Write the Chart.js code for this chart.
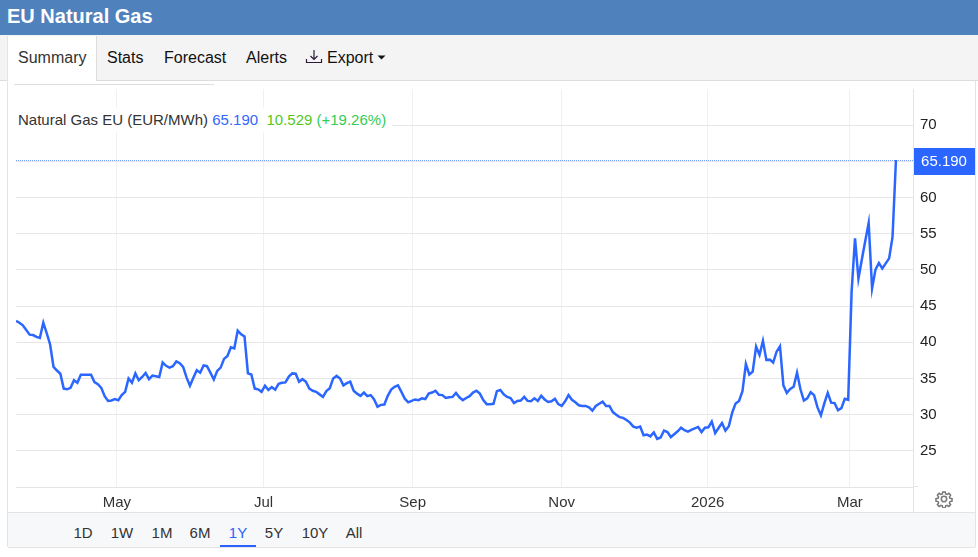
<!DOCTYPE html>
<html>
<head>
<meta charset="utf-8">
<title>EU Natural Gas</title>
<script src="https://cdn.jsdelivr.net/npm/chart.js@4"></script>
<style>
    body { margin: 0; background: #fff; font-family: "Liberation Sans", Arial, sans-serif; }
    #page { position: relative; width: 978px; height: 557px; overflow: hidden; }
    #page > div, #page > span, #page > svg { position: absolute; }
    #header { left: 0; top: 0; width: 978px; height: 35px; background: #4f81bd; color: #fff; font-weight: bold; font-size: 20px; line-height: 32px; text-indent: 7px; }
    #tabbar { left: 0; top: 35px; width: 978px; height: 45px; background: #f4f4f4; border-bottom: 1px solid #ddd; }
    #active-tab { left: 8px; top: 36px; width: 88px; height: 45px; background: #fff; border-right: 1px solid #ddd; }
    .tab { top: 49px; font-size: 16px; line-height: 18px; color: #111; white-space: nowrap; }
    #panel-left { left: 7px; top: 36px; width: 1px; height: 511px; background: #e4e4e4; }
    #panel-right { left: 975px; top: 81px; width: 1px; height: 466px; background: #e4e4e4; }
    #tab-line { left: 14px; top: 84px; width: 200px; height: 1px; background: #ddd; }
    #chart-box { left: 8px; top: 82px; width: 968px; height: 430px; }
    #legend { left: 14px; top: 108px; width: 374px; height: 24px; padding-left: 4px; background: #fff; font-size: 15px; line-height: 24px; color: #333; white-space: nowrap; }
    #range-bar { left: 8px; top: 512px; width: 967px; height: 34px; background: #f7f8fa; border-top: 1px solid #e4e4e4; border-bottom: 1px solid #e4e4e4; }
    .range { top: 525px; width: 40px; margin-left: -20px; text-align: center; font-size: 15px; line-height: 16px; color: #333; }
    #range-mark { left: 220px; top: 545px; width: 36px; height: 2px; background: #2962ff; }
    #gear-rule { left: 913px; top: 486px; width: 1px; height: 26px; background: #e4e4e4; }
    #base-end { left: 913px; top: 486px; width: 5px; height: 1px; background: #e4e4e4; }
</style>
</head>
<body>
<div id="page">
    <div id="header">EU Natural Gas</div>
    <div id="tabbar"></div>
    <div id="active-tab"></div>
    <div id="panel-left"></div>
    <div id="panel-right"></div>
    <span class="tab" style="left:18px;color:#333">Summary</span>
    <span class="tab" style="left:107px">Stats</span>
    <span class="tab" style="left:164px">Forecast</span>
    <span class="tab" style="left:246px">Alerts</span>
    <svg style="left:305px;top:49px" width="18" height="16" viewBox="0 0 18 16" fill="none" stroke="#2b1a3a" stroke-width="1.2">
        <path d="M9 1V10M5.5 7L9 10.5L12.5 7M1.5 10V13.5H16.5V10"/>
    </svg>
    <span class="tab" style="left:327px">Export</span>
    <svg style="left:377px;top:55px" width="9" height="5" viewBox="0 0 9 5"><path d="M0.5 0.5H8.5L4.5 4.5Z" fill="#111"/></svg>
    <div id="chart-box"><canvas id="gas-chart"></canvas></div>
    <div id="tab-line"></div>
    <div id="legend">Natural Gas EU (EUR/MWh) <span style="color:#3366ff">65.190</span>&nbsp; <span style="color:#55c81e">10.529</span> <span style="color:#33cc55">(+19.26%)</span></div>
    <div id="gear-rule"></div>
    <div id="base-end"></div>
    <svg style="left:935px;top:490px" width="18" height="18" viewBox="0 0 24 24" fill="none" stroke="#777" stroke-width="2">
        <path d="M10.3 2.5h3.4l.5 2.7 1.9.8 2.3-1.6 2.4 2.4-1.6 2.3.8 1.9 2.7.5v3.4l-2.7.5-.8 1.9 1.6 2.3-2.4 2.4-2.3-1.6-1.9.8-.5 2.7h-3.4l-.5-2.7-1.9-.8-2.3 1.6-2.4-2.4 1.6-2.3-.8-1.9-2.7-.5v-3.4l2.7-.5.8-1.9-1.6-2.3 2.4-2.4 2.3 1.6 1.9-.8z"/>
        <circle cx="12" cy="12" r="3.6"/>
    </svg>
    <div id="range-bar"></div>
    <span class="range" style="left:83px">1D</span>
    <span class="range" style="left:122px">1W</span>
    <span class="range" style="left:162px">1M</span>
    <span class="range" style="left:200px">6M</span>
    <span class="range" style="left:238px;color:#2962ff">1Y</span>
    <span class="range" style="left:274px">5Y</span>
    <span class="range" style="left:315px">10Y</span>
    <span class="range" style="left:354px">All</span>
    <div id="range-mark"></div>
</div>
<script>
// Daily closes in EUR/MWh (one per trading day)
const prices = [
    42.95, 42.7, 42.35, 41.7, 41.05, 41.0, 40.75, 40.6, 42.7, 41.25,
    39.7, 36.6, 36.1, 35.65, 33.6, 33.5, 33.7, 34.75, 34.4, 35.5,
    35.5, 35.5, 35.5, 34.5, 34.2, 33.7, 32.55, 31.9, 31.95, 32.15,
    32.0, 32.7, 33.15, 35.0, 34.4, 35.7, 34.75, 35.2, 35.75, 34.9,
    35.4, 35.3, 35.2, 37.2, 36.75, 36.5, 36.7, 37.35, 37.1, 36.6,
    35.15, 34.0, 35.1, 36.15, 35.8, 36.8, 36.7, 35.8, 34.85, 36.05,
    36.5, 37.7, 38.1, 39.3, 39.15, 41.6, 41.1, 40.8, 35.7, 35.55,
    33.6, 33.5, 33.15, 34.0, 33.4, 33.8, 33.45, 34.25, 34.4, 34.45,
    35.25, 35.7, 35.65, 34.55, 34.9, 34.55, 33.6, 33.3, 33.15, 32.8,
    32.45, 33.25, 33.65, 35.0, 35.35, 35.0, 34.05, 34.35, 34.55, 33.3,
    32.9, 32.6, 33.05, 32.55, 32.7, 32.1, 31.1, 31.35, 31.4, 32.6,
    33.45, 33.85, 34.05, 33.15, 32.2, 31.7, 31.9, 32.1, 32.0, 32.25,
    32.15, 32.9, 33.05, 33.3, 32.75, 32.7, 32.3, 32.4, 32.45, 33.0,
    32.4, 32.0, 32.3, 32.55, 33.05, 33.3, 32.9, 32.0, 31.45, 31.45,
    31.5, 33.25, 33.4, 32.8, 32.45, 32.3, 31.6, 31.9, 31.95, 32.45,
    31.9, 31.85, 32.25, 31.9, 32.6, 32.1, 31.75, 31.85, 32.2, 31.45,
    31.2, 31.85, 32.7, 32.05, 31.7, 31.3, 31.2, 31.2, 31.0, 30.55,
    31.2, 31.5, 31.8, 31.2, 31.2, 30.35, 30.0, 29.65, 29.55, 29.25,
    28.9, 28.35, 28.2, 28.35, 27.15, 27.25, 27.0, 27.55, 26.65, 26.85,
    27.8, 27.6, 26.9, 27.3, 27.7, 28.2, 27.85, 27.65, 27.9, 28.1,
    28.3, 27.6, 28.2, 28.25, 29.05, 27.45, 28.15, 28.85, 27.8, 28.4,
    30.3, 31.55, 31.9, 33.25, 37.0, 35.55, 35.95, 39.4, 38.25, 40.2,
    37.55, 37.6, 37.2, 38.7, 39.45, 34.05, 33.0, 33.55, 33.85, 35.8,
    33.5, 31.95, 32.25, 33.1, 32.7, 31.0, 29.9, 31.55, 33.0, 31.65,
    31.6, 30.6, 30.9, 32.2, 32.05, 47.0, 54.35, 48.8, 51.45, 54.0,
    56.5, 47.45, 50.05, 50.95, 50.2, 50.9, 51.6, 54.55, 65.19
];

// Month labels and where they fall along the trading-day axis
const monthLabels = ['May', 'Jul', 'Sep', 'Nov', '2026', 'Mar'];
const monthPositions = [29.6, 72.6, 116.3, 160, 202.8, 244.5];

const priceTicks = [25, 30, 35, 40, 45, 50, 55, 60, 65, 70];
const lastDayOnAxis = 263;
const lineBlue = '#2a66ff';

// Dotted line at the last price and the blue price tag on the right
const lastPriceTag = {
    id: 'lastPriceTag',
    afterDraw: function(chart) {
        const ctx = chart.ctx;
        const area = chart.chartArea;
        const last = prices[prices.length - 1];
        const y = chart.scales.y.getPixelForValue(last);

        ctx.save();
        ctx.strokeStyle = 'rgba(42, 102, 255, 0.65)';
        ctx.lineWidth = 1;
        ctx.setLineDash([1, 1]);
        ctx.beginPath();
        ctx.moveTo(area.left, Math.round(y) + 0.5);
        ctx.lineTo(area.right, Math.round(y) + 0.5);
        ctx.stroke();
        ctx.setLineDash([]);

        ctx.fillStyle = lineBlue;
        ctx.fillRect(area.right + 1, y - 12, 61, 27);
        ctx.fillStyle = '#fff';
        ctx.font = '15px "Liberation Sans", Arial, sans-serif';
        ctx.textAlign = 'center';
        ctx.textBaseline = 'middle';
        ctx.fillText(last.toFixed(3), area.right + 31, y + 2);
        ctx.restore();
    }
};

const chartBox = document.getElementById('chart-box');
chartBox.style.position = 'absolute';

new Chart(document.getElementById('gas-chart'), {
    type: 'line',
    data: {
        datasets: [{
            data: prices.map(function(price, day) { return { x: day, y: price }; }),
            borderColor: lineBlue,
            borderWidth: 2.5,
            pointRadius: 0,
            tension: 0
        }]
    },
    options: {
        responsive: true,
        maintainAspectRatio: false,
        animation: false,
        layout: { padding: { left: 8, top: 7 } },
        plugins: { legend: { display: false }, tooltip: { enabled: false } },
        scales: {
            x: {
                type: 'linear',
                min: 0,
                max: lastDayOnAxis,
                afterBuildTicks: function(scale) {
                    scale.ticks = monthPositions.map(function(pos) { return { value: pos }; });
                },
                afterFit: function(scale) {
                    scale.height = 25;
                    scale.paddingLeft = 0;
                    scale.paddingRight = 0;
                },
                grid: { color: '#f0f0f0', drawTicks: false },
                border: { color: '#e4e4e4' },
                ticks: {
                    autoSkip: false,
                    maxRotation: 0,
                    padding: 7,
                    color: '#333',
                    font: { family: '"Liberation Sans", Arial, sans-serif', size: 15 },
                    callback: function(value) {
                        return monthLabels[monthPositions.indexOf(value)];
                    }
                }
            },
            y: {
                position: 'right',
                min: 20,
                max: 75,
                afterBuildTicks: function(scale) {
                    scale.ticks = [20].concat(priceTicks).map(function(v) { return { value: v }; });
                },
                afterFit: function(scale) {
                    scale.width = 63;
                    scale.paddingTop = 0;
                    scale.paddingBottom = 0;
                },
                grid: { color: '#e6e6e6', drawTicks: false },
                border: { color: '#e4e4e4' },
                ticks: {
                    padding: 7,
                    color: '#222',
                    font: { family: '"Liberation Sans", Arial, sans-serif', size: 15 },
                    callback: function(value) { return value === 20 ? '' : value; }
                }
            }
        }
    },
    plugins: [lastPriceTag]
});
</script>
</body>
</html>
